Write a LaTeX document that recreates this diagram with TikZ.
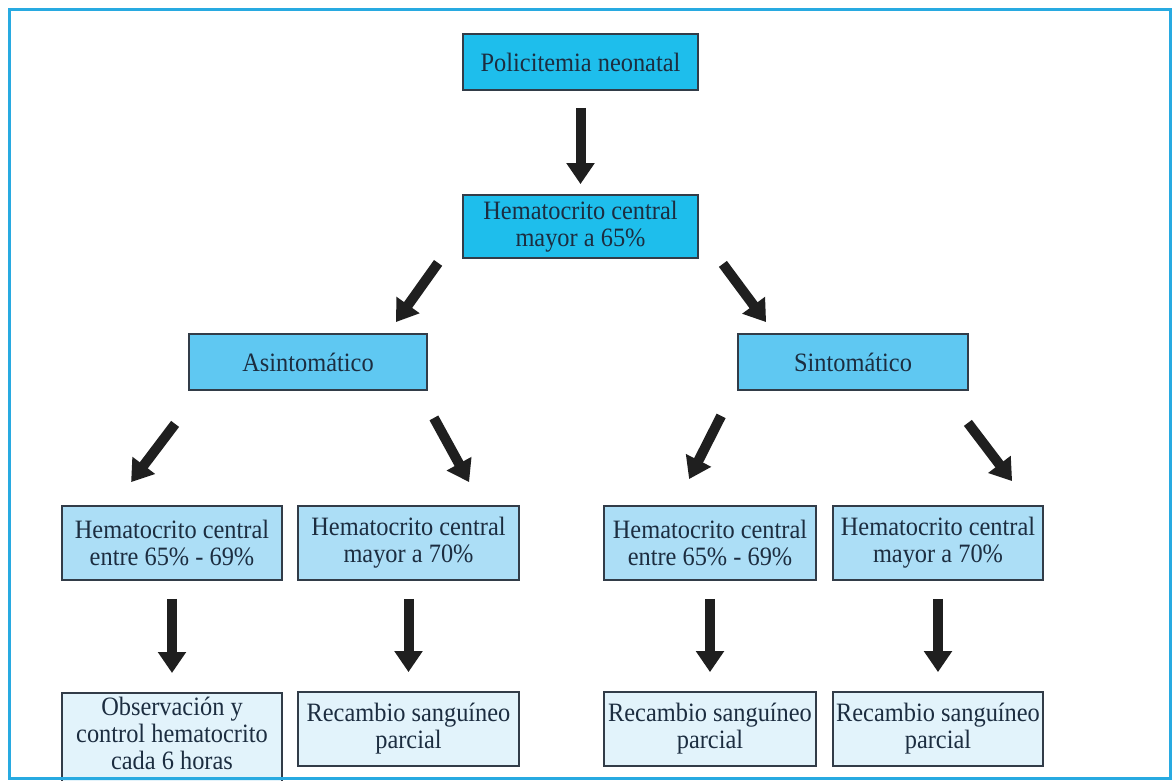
\documentclass[tikz,border=0pt]{standalone}
\usepackage{fontspec}
\setmainfont{Liberation Serif}[FakeStretch=0.92]
\usetikzlibrary{arrows.meta,calc}
\definecolor{framec}{RGB}{40,170,225}
\definecolor{fillA}{RGB}{30,190,236}
\definecolor{fillB}{RGB}{95,200,242}
\definecolor{fillC}{RGB}{172,222,246}
\definecolor{fillD}{RGB}{226,243,251}
\definecolor{edgec}{RGB}{50,60,72}
\definecolor{txtc}{RGB}{28,45,64}
\tikzset{
  boxfont/.style={font=\fontsize{26.5}{27}\selectfont},
  box/.style={draw=edgec, line width=1.8pt, inner sep=0pt, align=center, text=txtc, boxfont},
  bigarrow/.style={line width=10pt, draw=black!88, -{Triangle[length=21pt,width=27pt,fill=black!88]}}
}
\begin{document}
\begin{tikzpicture}[x=1pt,y=-1pt]
\useasboundingbox (0,0) rectangle (1176,781);
\fill[white] (0,0) rectangle (1176,781);
\begin{scope}
\clip (0,0) rectangle (1176,781);
\node[box, fill=fillA, minimum width=235pt, minimum height=56pt] (pol) at (580.5,62) {Policitemia neonatal};
\node[box, fill=fillA, minimum width=235pt, minimum height=63pt] (hem) at (580.5,226.5) {Hematocrito central\\mayor a 65\%};
\node[box, fill=fillB, minimum width=238pt, minimum height=56pt] (asin) at (308,362) {Asintomático};
\node[box, fill=fillB, minimum width=230pt, minimum height=56pt] (sint) at (853,362) {Sintomático};
\node[box, fill=fillC, minimum width=220pt, minimum height=74pt] (b1) at (172,543) {Hematocrito central\\entre 65\% - 69\%};
\node[box, fill=fillC, minimum width=221pt, minimum height=74pt] (b2) at (408.5,543) {Hematocrito central\\mayor a 70\%};
\node[box, fill=fillC, minimum width=212pt, minimum height=74pt] (b3) at (710,543) {Hematocrito central\\entre 65\% - 69\%};
\node[box, fill=fillC, minimum width=210pt, minimum height=74pt] (b4) at (938,543) {Hematocrito central\\mayor a 70\%};
\node[box, fill=fillD, minimum width=220pt, minimum height=100pt, anchor=north] (c1) at (172,692) {};
\node[text=txtc, align=center, boxfont, anchor=north, inner sep=0pt] (c1t) at (172,697) {Observación y\\control hematocrito\\cada 6 horas};
\node[box, fill=fillD, minimum width=221pt, minimum height=74pt] (c2) at (408.5,729) {Recambio sanguíneo\\parcial};
\node[box, fill=fillD, minimum width=212pt, minimum height=74pt] (c3) at (710,729) {Recambio sanguíneo\\parcial};
\node[box, fill=fillD, minimum width=210pt, minimum height=74pt] (c4) at (938,729) {Recambio sanguíneo\\parcial};

\draw[bigarrow, shorten <=17pt, shorten >=10pt] (pol.south) -- (hem.north);
\draw[bigarrow] ($(hem.south west)+(-24,4)$) -- ($(asin.north east)+(-32,-11)$);
\draw[bigarrow] ($(hem.south east)+(24,5)$) -- ($(sint.north west)+(29,-11)$);
\draw[bigarrow] ($(asin.south west)+(-13,33)$) -- ($(b1.north west)+(70,-23)$);
\draw[bigarrow] ($(asin.south east)+(6,27)$) -- ($(b2.north west)+(172,-23)$);
\draw[bigarrow] ($(sint.south west)+(-16,25)$) -- ($(b3.north west)+(86,-26)$);
\draw[bigarrow] ($(sint.south east)+(-1,32)$) -- ($(b4.north west)+(180,-24)$);
\draw[bigarrow, shorten <=18pt, shorten >=19pt] (b1.south) -- (c1.north);
\draw[bigarrow, shorten <=18pt, shorten >=19pt] (b2.south) -- (c2.north);
\draw[bigarrow, shorten <=18pt, shorten >=19pt] (b3.south) -- (c3.north);
\draw[bigarrow, shorten <=18pt, shorten >=19pt] (b4.south) -- (c4.north);
\end{scope}
\draw[framec, line width=3pt] (9,10) rectangle (1170,778);
\end{tikzpicture}
\end{document}
